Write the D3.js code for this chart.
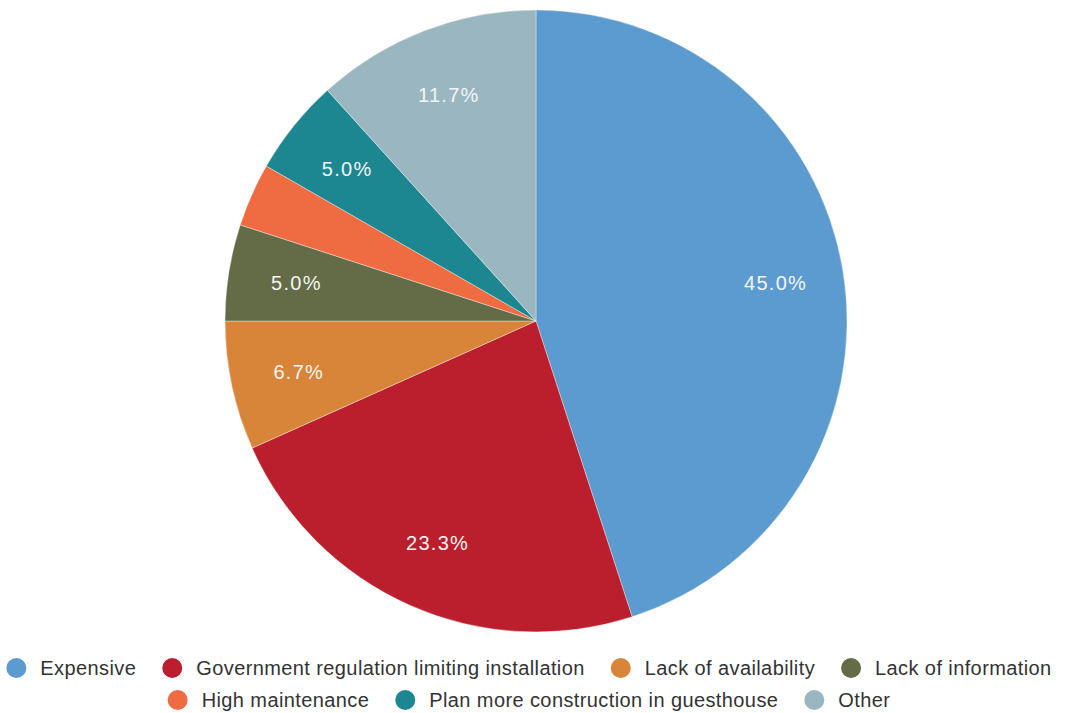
<!DOCTYPE html>
<html>
<head>
<meta charset="utf-8">
<script src="https://cdn.jsdelivr.net/npm/d3@7"></script>
<style>
  html, body { margin: 0; padding: 0; background: #ffffff; }
  svg { display: block; font-family: Arial, "Liberation Sans", sans-serif; }
</style>
</head>
<body>
<svg id="chart" width="1065" height="713"></svg>
<script>
// Reasons given, share of respondents (%)
const categories = [
  "Expensive",
  "Government regulation limiting installation",
  "Lack of availability",
  "Lack of information",
  "High maintenance",
  "Plan more construction in guesthouse",
  "Other"
];
const values = [45.0, 23.3, 6.7, 5.0, 3.3, 5.0, 11.7];
const colors = ["#5b9bd0", "#bb1e2c", "#d8853a", "#636c47", "#ef6c42", "#1c8790", "#9ab7c1"];

const width = 1065, height = 713;
const cx = 536, cy = 321, radius = 311;

const svg = d3.select("#chart");
const data = categories.map((c, i) => ({ name: c, value: values[i], color: colors[i] }));

const pie = d3.pie().value(d => d.value).sort(null);
const arc = d3.arc().innerRadius(0).outerRadius(radius);
const labelArc = d3.arc().innerRadius(radius * 0.78).outerRadius(radius * 0.78);

const g = svg.append("g").attr("transform", `translate(${cx},${cy})`);
const arcs = pie(data);

g.selectAll("path.slice")
  .data(arcs)
  .join("path")
  .attr("class", "slice")
  .attr("d", arc)
  .attr("fill", d => d.data.color)
  .attr("stroke", "#ffffff")
  .attr("stroke-opacity", 0.6)
  .attr("stroke-width", 0.6);

// Percentage labels on slices large enough to hold them
g.selectAll("text.pct")
  .data(arcs.filter(d => d.data.value >= 4))
  .join("text")
  .attr("class", "pct")
  .attr("transform", d => `translate(${labelArc.centroid(d)})`)
  .attr("text-anchor", "middle")
  .attr("dy", "0.36em")
  .attr("fill", "#f4f4f4")
  .attr("font-size", 20)
  .attr("letter-spacing", 1.3)
  .text(d => d.data.value.toFixed(1) + "%");

// Legend: wrapped rows, each centred
const legend = svg.append("g");
const fontSize = 20, dotR = 10, textOff = 34, itemGap = 26, maxW = 1055;
const rowY = [668, 700], legendCenter = 529;

const items = data.map(d => {
  const t = legend.append("text")
    .attr("font-size", fontSize)
    .attr("fill", "#333333")
    .attr("letter-spacing", 0.4)
    .attr("dy", "0.35em")
    .text(d.name);
  const w = t.node().getComputedTextLength();
  return { d, t, w: textOff + w };
});

const rows = [[]];
let cur = 0;
items.forEach(it => {
  const add = (rows[rows.length - 1].length ? itemGap : 0) + it.w;
  if (cur + add > maxW && rows[rows.length - 1].length) {
    rows.push([it]);
    cur = it.w;
  } else {
    rows[rows.length - 1].push(it);
    cur += add;
  }
});

rows.forEach((row, ri) => {
  const total = d3.sum(row, r => r.w) + itemGap * (row.length - 1);
  let x = legendCenter - total / 2;
  const y = rowY[ri];
  row.forEach(it => {
    legend.append("circle")
      .attr("cx", x + dotR)
      .attr("cy", y)
      .attr("r", dotR)
      .attr("fill", it.d.color);
    it.t.attr("x", x + textOff).attr("y", y);
    x += it.w + itemGap;
  });
});
</script>
</body>
</html>
